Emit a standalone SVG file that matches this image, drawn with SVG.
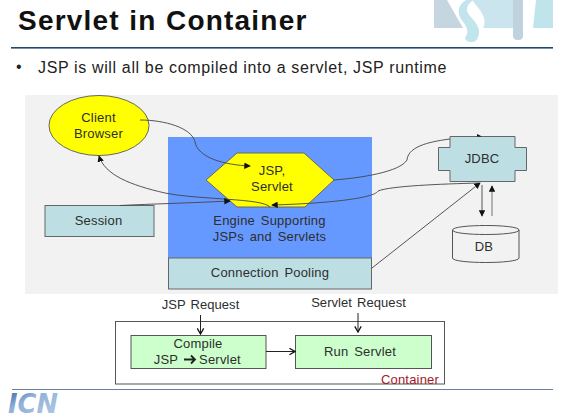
<svg xmlns="http://www.w3.org/2000/svg" width="570" height="419" viewBox="0 0 570 419">
<defs>
<marker id="a" viewBox="0 0 8 8" refX="7" refY="4" markerWidth="6.5" markerHeight="6.5" markerUnits="userSpaceOnUse" orient="auto"><path d="M0 0L8 4L0 8Z" fill="#111"/></marker>
<marker id="o" viewBox="0 0 10 10" refX="9" refY="5" markerWidth="8" markerHeight="8" markerUnits="userSpaceOnUse" orient="auto"><path d="M2 1L9 5L2 9" fill="none" stroke="#111" stroke-width="1.6"/></marker>
<linearGradient id="lg" x1="0" y1="0" x2="1" y2="1"><stop offset="0" stop-color="#2f5f9f"/><stop offset=".35" stop-color="#8fb0d8"/><stop offset="1" stop-color="#b4cbe6"/></linearGradient>
</defs>
<style>
text{font-family:"Liberation Sans",Arial,sans-serif;fill:#2e2e2e;font-size:13px;text-anchor:middle;letter-spacing:.2px;word-spacing:2px}
.req{letter-spacing:.05px;word-spacing:1.5px}
.teal{fill:#bddfe3;stroke:#666;stroke-width:1}
.yel{fill:#ffff00;stroke:#666;stroke-width:1}
.grn{fill:#ccffcc;stroke:#555;stroke-width:1}
.c{fill:none;stroke:#444;stroke-width:.9}
.r{fill:none;stroke:#222;stroke-width:1}
</style>
<rect width="570" height="419" fill="#fff"/>
<g id="watermark">
<path d="M434 0H447L463 28H434Z" fill="#c5d6e1"/>
<path d="M472 0H513V28H483C488 18 480 10 472 0Z" fill="#cbe5ee"/>
<path d="M466 0H473C466 6 465 10 470 16C478 25 481 30 478 37C477 41 474 42 472 42C468 42 465 40 465 38C470 30 466 26 461 19C457 12 458 5 466 0Z" fill="#c2e4ed"/>
<path d="M513 0H523V36Q523 40 518 40Q513 40 513 36Z" fill="#bfd2de"/>
<path d="M536 0H553V28H533Z" fill="#bfe4ec"/>
</g>
<text id="title" x="18" y="30" style="text-anchor:start;font-size:28px;font-weight:bold;fill:#111;letter-spacing:1.200px;word-spacing:.5px">Servlet in Container</text>
<rect id="title-rule" x="11" y="47" width="542" height="1.600" fill="#1f4a70"/>
<text id="bullet" x="19" y="72" style="font-size:16px;fill:#222">•</text>
<text id="subtitle" x="38" y="72.500" style="text-anchor:start;font-size:16px;fill:#222;letter-spacing:.64px;word-spacing:0">JSP is will all be compiled into a servlet, JSP runtime</text>
<rect id="panel" x="25" y="95" width="533" height="199" fill="#f2f2f2"/>
<g id="engine"><rect x="168" y="137" width="204" height="121" fill="#6699ff"/><text x="269.500" y="225">Engine Supporting</text><text x="269.500" y="241">JSPs and Servlets</text></g>
<g id="pooling"><rect class="teal" x="168.500" y="258" width="203" height="31"/><text x="270" y="277">Connection Pooling</text></g>
<g id="client"><ellipse class="yel" cx="99" cy="125.500" rx="50" ry="30"/><text x="98.500" y="122">Client</text><text x="98.500" y="138">Browser</text></g>
<g id="jsp"><path class="yel" d="M206 180L237 153H304L334 180L305 207H237Z"/><text x="272" y="175">JSP,</text><text x="272" y="191">Servlet</text></g>
<g id="session"><rect class="teal" x="45" y="205.500" width="109" height="31"/><text x="98.500" y="225">Session</text></g>
<g id="jdbc"><path class="teal" d="M450 136.500H515V147.500H526.500V170.500H515V181.500H450V170.500H438.500V147.500H450Z"/><text x="482" y="163">JDBC</text></g>
<g id="db"><path d="M452.500 230C452.500 224 519 224 519 230V258C519 264 452.500 264 452.500 258Z" fill="#f2f2f2" stroke="#555"/><path d="M452.500 230C452.500 236 519 236 519 230" fill="none" stroke="#555"/><text x="484" y="251">DB</text></g>
<g id="connectors">
<path class="c" marker-end="url(#a)" d="M140 120C165 120 192 128 195 142C198 158 225 165 250 166"/>
<path class="c" marker-end="url(#a)" d="M270 207C262 198 200 200 165 193C130 185 105 175 99 156"/>
<path class="c" marker-end="url(#a)" d="M120 205.500C150 204 190 203 230 201"/>
<path class="c" d="M334 180C360 178 400 172 407 160C408 145 435 141 450 139"/>
<path d="M477 134L482 136.500H477Z" fill="#111"/>
<path class="c" marker-end="url(#a)" d="M479 183C440 184 390 186 378 191C375 197 340 203 272 205"/>
<path class="c" marker-end="url(#a)" d="M372 268L480 183"/>
<path class="c" marker-end="url(#a)" d="M482 185V216"/>
<path d="M492 216V186" fill="none" stroke="#888" stroke-width="1.200" marker-end="url(#a)"/>
</g>
<text id="jsp-request" class="req" x="200.500" y="309">JSP Request</text>
<text id="servlet-request" class="req" x="358.500" y="307">Servlet Request</text>
<g id="container"><rect x="115.500" y="321.500" width="329" height="62.500" fill="#fff" stroke="#555"/><text x="410" y="384" style="fill:#a11a2a">Container</text></g>
<g id="compile"><rect class="grn" x="131" y="335.500" width="135" height="33"/><text x="198" y="348">Compile</text><text x="166" y="364">JSP</text><text x="220" y="364">Servlet</text><path d="M184 359.500H195M191 355.500L195 359.500L191 363.500" fill="none" stroke="#222" stroke-width="1.800"/></g>
<g id="run"><rect class="grn" x="295.500" y="335.500" width="136" height="33"/><text x="360" y="356">Run Servlet</text></g>
<g id="request-connectors">
<path class="r" marker-end="url(#o)" d="M200.500 315V334"/>
<path class="r" marker-end="url(#o)" d="M358 313V332"/>
<path class="r" marker-end="url(#o)" d="M266 351.500H295"/>
</g>
<rect id="footer-rule" x="12" y="389" width="541" height="1" fill="#6a7fa3"/>
<text id="logo" x="8" y="413" textLength="50" lengthAdjust="spacingAndGlyphs" style="text-anchor:start;font-family:'DejaVu Sans',sans-serif;font-size:26px;font-weight:bold;font-style:italic;fill:url(#lg);letter-spacing:0;word-spacing:0">ICN</text>
</svg>
